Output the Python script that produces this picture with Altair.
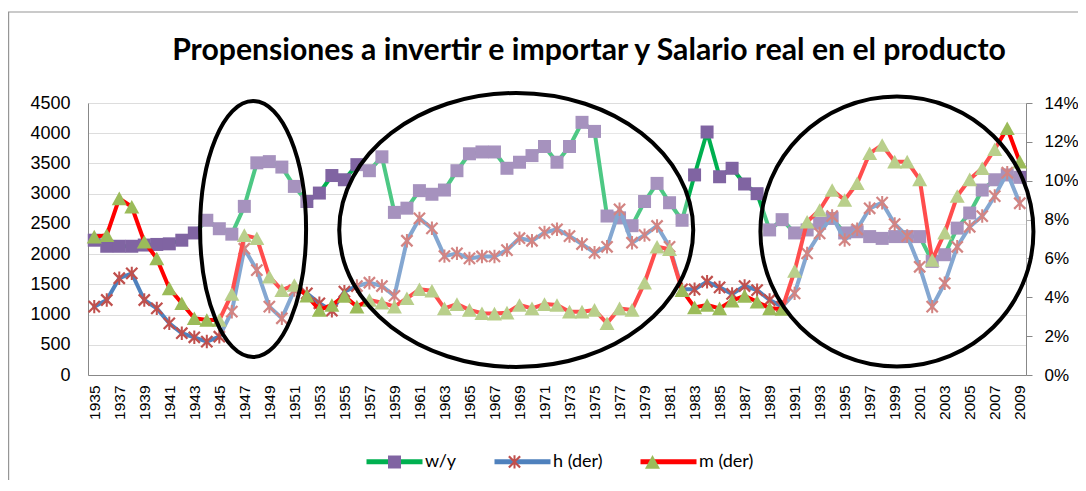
import altair as alt
import pandas as pd

# ---------------- data ----------------
years = list(range(1935, 2010))

wy = [2230, 2130, 2130, 2130, 2150, 2160, 2170, 2230, 2350, 2560,
      2420, 2330, 2790, 3510, 3530, 3440, 3120, 2870, 3010, 3300,
      3230, 3480, 3380, 3610, 2690, 2760, 3050, 2990, 3060, 3380,
      3660, 3690, 3690, 3420, 3520, 3630, 3780, 3520, 3780, 4180,
      4030, 2630, 2600, 2470, 2870, 3170, 2850, 2560, 3310, 4020,
      3280, 3420, 3160, 3000, 2400, 2570, 2350, 2400, 2510, 2590,
      2350, 2370, 2290, 2260, 2290, 2290, 2290, 1880, 1990, 2430,
      2680, 3060, 3230, 3310, 3270]

h_pct = [3.52, 3.86, 4.98, 5.23, 3.86, 3.43, 2.66, 2.15, 1.94, 1.72,
         1.97, 3.26, 6.50, 5.40, 3.52, 2.92, 4.37, 4.20, 3.69, 3.31,
         4.29, 4.58, 4.75, 4.58, 4.07, 6.91, 8.06, 7.55, 6.12, 6.26,
         6.00, 6.10, 6.10, 6.43, 7.04, 6.91, 7.33, 7.50, 7.15, 6.74,
         6.30, 6.60, 8.53, 6.81, 7.20, 7.67, 6.60, 4.41, 4.41, 4.80,
         4.51, 4.17, 4.58, 4.37, 3.86, 3.52, 4.20, 6.26, 7.29, 8.18,
         6.95, 7.50, 8.58, 8.87, 7.77, 7.15, 5.57, 3.52, 4.72, 6.60,
         7.63, 8.18, 9.21, 10.41, 8.84]

m_pct = [7.12, 7.20, 9.09, 8.66, 6.86, 6.00, 4.46, 3.69, 2.92, 2.83,
         2.83, 4.17, 7.20, 7.04, 5.06, 4.37, 4.63, 4.08, 3.35, 3.60,
         4.07, 3.52, 3.86, 3.72, 3.52, 3.95, 4.41, 4.34, 3.43, 3.65,
         3.35, 3.18, 3.16, 3.21, 3.60, 3.43, 3.65, 3.60, 3.26, 3.26,
         3.35, 2.66, 3.43, 3.35, 4.75, 6.60, 6.47, 4.37, 3.48, 3.60,
         3.43, 3.83, 4.07, 3.77, 3.43, 3.40, 5.36, 7.89, 8.49, 9.52,
         9.01, 9.87, 11.41, 11.84, 10.98, 10.98, 10.07, 5.92, 7.33, 9.21,
         10.07, 10.64, 11.62, 12.70, 10.98]

series_names = ["w/y", "h (der)", "m (der)"]
line_colors = ["#00b050", "#4f81bd", "#ff0000"]
marker_colors = ["#8064a2", "#c0504d", "#9bbb59"]

x_ticks = list(range(1935, 2010, 2))
left_ticks = list(range(0, 4501, 500))
right_ticks = [0, 0.02, 0.04, 0.06, 0.08, 0.10, 0.12, 0.14]

title_text = "Propensiones a invertir e importar y Salario real en el producto"

# highlighted periods (ellipse centres, in year / left-axis units)
ell_year = [1947.7, 1968.74, 1999.18]
ell_value = [2415, 2399, 2374]

# ---------------- tables ----------------
MK = "mk:"
marker_names = [MK + s for s in series_names]
df_left = pd.DataFrame({"year": years, "val": wy, "serie": "w/y", "mk": MK + "w/y"})
df_h = pd.DataFrame({"year": years, "val": [v / 100 for v in h_pct], "serie": "h (der)", "mk": MK + "h (der)"})
df_m = pd.DataFrame({"year": years, "val": [v / 100 for v in m_pct], "serie": "m (der)", "mk": MK + "m (der)"})

# ---------------- shapes ----------------
SYM = 56  # symbol box in px (legend line length)
def u(px):
    return round(px / (SYM / 2), 4)

sq = u(6.5)
square_path = f"M {-sq} {-sq} L {sq} {-sq} L {sq} {sq} L {-sq} {sq} Z"
tw, th = u(7.5), u(6.8)
tri_path = f"M 0 {-th} L {tw} {th} L {-tw} {th} Z"
a, t, vv, vt = 0.2, 0.028, 0.24, 0.036
star_path = (
    f"M {-a+t} {-a-t} L {a+t} {a-t} L {a-t} {a+t} L {-a-t} {-a+t} Z "
    f"M {-a+t} {a+t} L {-a-t} {a-t} L {a-t} {-a-t} L {a+t} {-a+t} Z "
    f"M {-vt} {-vv} L {vt} {-vv} L {vt} {vv} L {-vt} {vv} Z"
)
marker_paths = [square_path, star_path, tri_path]

def ellipse_path(w, h):
    k = 0.5523
    m = max(w, h)
    ax, by = w / m, h / m
    return (f"M 0 {-by} C {k*ax} {-by} {ax} {-k*by} {ax} 0 "
            f"C {ax} {k*by} {k*ax} {by} 0 {by} "
            f"C {-k*ax} {by} {-ax} {k*by} {-ax} 0 "
            f"C {-ax} {-k*by} {-k*ax} {-by} 0 {-by} Z"), m * m

ell_dims = [(106, 256), (354, 274), (273, 270)]

# ---------------- encodings ----------------
x_scale = alt.Scale(domain=[1934.5, 2009.5], nice=False, zero=False)
x_enc = alt.X("year:Q", scale=x_scale,
              axis=alt.Axis(values=x_ticks, format="d", labelAngle=-90, grid=False, ticks=False,
                            labelFontSize=15.5, labelPadding=10, title=None, labelAlign="right",
                            labelBaseline="middle"))

legend_common = dict(orient="none", legendX=276, legendY=328, direction="horizontal",
                     title=None, symbolSize=SYM * SYM, symbolStrokeWidth=5, labelFontSize=18,
                     labelFont="Lato", columnPadding=27, labelOffset=0, padding=0)

color_enc = alt.Color("serie:N", scale=alt.Scale(domain=series_names, range=line_colors),
                      legend=alt.Legend(symbolType="stroke", labelColor="black", **legend_common))
legB = alt.Legend(labelOpacity=0, symbolStrokeColor="transparent", symbolOpacity=1,
                  labelExpr=f"slice(datum.label, {len(MK)})", **legend_common)
fill_enc = alt.Fill("mk:N", scale=alt.Scale(domain=marker_names, range=marker_colors), legend=legB)
shape_enc = alt.Shape("mk:N", scale=alt.Scale(domain=marker_names, range=marker_paths), legend=legB)

y_left = alt.Y("val:Q", scale=alt.Scale(domain=[0, 4500], nice=False),
               axis=alt.Axis(values=left_ticks, grid=True, ticks=False, labelFontSize=18,
                             labelPadding=18, title=None, format="d"))
y_right = alt.Y("val:Q", scale=alt.Scale(domain=[0, 0.14], nice=False),
                axis=alt.Axis(orient="right", values=right_ticks, format=".0%", grid=False,
                              ticks=True, tickSize=6, labelFontSize=17, labelPadding=12,
                              title=None))

def line_layer(df, y):
    return alt.Chart(df).mark_line(strokeWidth=4, strokeJoin="round", strokeCap="round").encode(
        x=x_enc, y=y, color=color_enc)

def point_layer(df, y):
    return alt.Chart(df).mark_point(filled=True, opacity=1, strokeWidth=0).encode(
        x=x_enc, y=y, fill=fill_enc, shape=shape_enc, size=alt.value(SYM * SYM))

left = alt.layer(line_layer(df_left, y_left), point_layer(df_left, y_left))
right = alt.layer(line_layer(df_h, y_right), point_layer(df_h, y_right),
                  line_layer(df_m, y_right), point_layer(df_m, y_right))

ell_layers = []
for i in range(3):
    p, s = ellipse_path(*ell_dims[i])
    d = pd.DataFrame({"year": [ell_year[i]], "val": [ell_value[i]]})
    ell_layers.append(
        alt.Chart(d).mark_point(shape=p, size=s, filled=True, fill="white", fillOpacity=0.3,
                                stroke="black", strokeWidth=4, strokeOpacity=1, opacity=1).encode(
            x=x_enc,
            y=alt.Y("val:Q", scale=alt.Scale(domain=[0, 4500], nice=False), axis=None))
    )
ell = alt.layer(*ell_layers)

# thin chart-area frame (Excel chart border)
frame = alt.Chart(pd.DataFrame({"k": [0]})).mark_rect(
    filled=False, stroke="#969696", strokeWidth=1.2).encode(
    x=alt.value(-79.4), x2=alt.value(1100), y=alt.value(-91), y2=alt.value(500))

chart = alt.layer(frame, left, right, ell).resolve_scale(y="independent").properties(
    width=938, height=272,
    autosize=alt.AutoSizeParams(type="none"),
    padding={"left": 80, "top": 95, "right": 52, "bottom": 105},
    title=alt.TitleParams(title_text, font="Lato", fontSize=30.2, fontWeight="bold", color="black",
                          anchor="middle", frame="group", dx=32, dy=3, offset=-76,
                          baseline="alphabetic"),
).configure_view(stroke=None).configure_axis(
    domainColor="#868686", gridColor="#868686", tickColor="#868686", labelFont="Lato",
    labelColor="black", domainWidth=1.3, gridWidth=1.3
).configure(background="white")

chart.save("out.html", embed_options={"renderer": "svg", "actions": False})
